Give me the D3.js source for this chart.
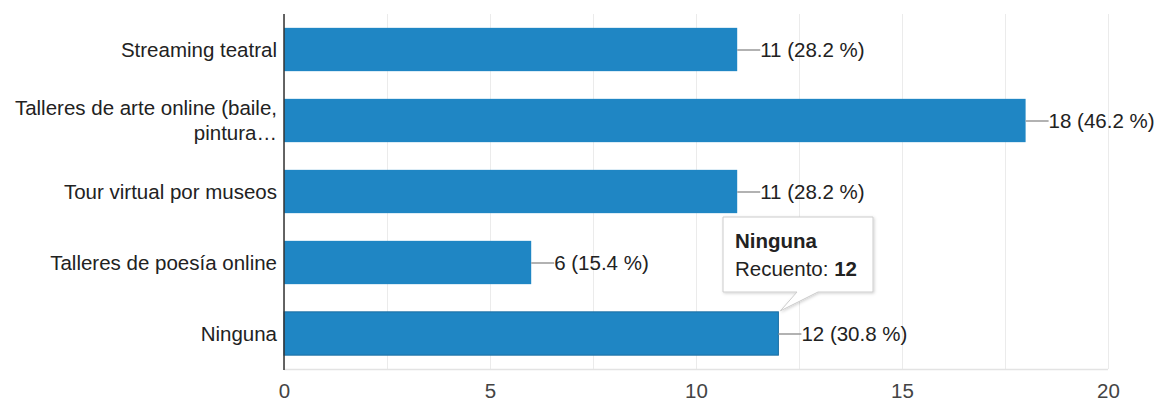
<!DOCTYPE html>
<html>
<head>
<meta charset="utf-8">
<script src="https://cdn.jsdelivr.net/npm/d3@7"></script>
<style>
  html, body { margin: 0; padding: 0; background: #fff; }
  svg { display: block; font-family: "Liberation Sans", Arial, sans-serif; }
</style>
</head>
<body>
<svg id="chart" width="1160" height="403"></svg>
<script>
// Responses per option
const categories = [
  ["Streaming teatral"],
  ["Talleres de arte online (baile,", "pintura…"],
  ["Tour virtual por museos"],
  ["Talleres de poesía online"],
  ["Ninguna"]
];
const counts = [11, 18, 11, 6, 12];
const percents = ["28.2", "46.2", "28.2", "15.4", "30.8"];
const xTicks = [0, 5, 10, 15, 20];
const gridTicks = [0, 2.5, 5, 7.5, 10, 12.5, 15, 17.5, 20];
const tooltipTitle = "Ninguna";
const tooltipLabel = "Recuento: ";
const tooltipIndex = 4;

const svg = d3.select("#chart");
const plotLeft = 284, plotRight = 1108, plotTop = 14, plotBottom = 369;
const blue = "#1f86c4";
const fs = 20.5;

const x = d3.scaleLinear().domain([0, 20]).range([plotLeft, plotRight]);
const y = d3.scaleBand().domain(d3.range(counts.length)).range([plotTop, plotBottom]).paddingInner(0.39).paddingOuter(0.195);

// gridlines
svg.append("g").selectAll("line").data(gridTicks).join("line")
  .attr("x1", d => x(d) + 0.5).attr("x2", d => x(d) + 0.5)
  .attr("y1", plotTop).attr("y2", plotBottom)
  .attr("stroke", "#ebebeb").attr("stroke-width", 1);
svg.append("line")
  .attr("x1", plotLeft).attr("x2", plotRight)
  .attr("y1", plotBottom + 0.5).attr("y2", plotBottom + 0.5)
  .attr("stroke", "#e3e3e3").attr("stroke-width", 1.5);

// x axis labels
const xAxis = d3.axisBottom(x).tickValues(xTicks).tickSize(0).tickPadding(0);
const gx = svg.append("g").attr("transform", `translate(0,${plotBottom + 14})`).call(xAxis);
gx.select(".domain").remove();
gx.selectAll("text").attr("font-size", fs).attr("fill", "#444")
  .attr("font-family", '"Liberation Sans", Arial, sans-serif');

// bars
svg.append("g").selectAll("rect").data(counts).join("rect")
  .attr("x", x(0)).attr("y", (d, i) => y(i))
  .attr("width", d => x(d) - x(0)).attr("height", y.bandwidth())
  .attr("fill", blue)
  .attr("stroke", (d, i) => i === tooltipIndex ? "#1a6ea3" : "none")
  .attr("stroke-width", 1);

// value annotations with leader lines
const ann = svg.append("g");
counts.forEach((d, i) => {
  const cy = y(i) + y.bandwidth() / 2;
  ann.append("line")
    .attr("x1", x(d)).attr("x2", x(d) + 23)
    .attr("y1", cy + 0.5).attr("y2", cy + 0.5)
    .attr("stroke", "#999").attr("stroke-width", 1.5);
  ann.append("text")
    .attr("x", x(d) + 23).attr("y", cy + 7)
    .attr("font-size", fs).attr("fill", "#222")
    .text(`${d} (${percents[i]} %)`);
});

// category labels
const lab = svg.append("g");
categories.forEach((lines, i) => {
  const cy = y(i) + y.bandwidth() / 2;
  const lh = 25;
  const start = cy - (lines.length - 1) * lh / 2 + 7;
  lines.forEach((t, k) => {
    lab.append("text")
      .attr("x", plotLeft - 7).attr("y", start + k * lh)
      .attr("text-anchor", "end")
      .attr("font-size", fs).attr("fill", "#222")
      .text(t);
  });
});

// vertical baseline
svg.append("line")
  .attr("x1", plotLeft).attr("x2", plotLeft)
  .attr("y1", plotTop).attr("y2", plotBottom + 1)
  .attr("stroke", "#333").attr("stroke-width", 1.5);

// tooltip callout for the hovered bar
const tipX = x(counts[tooltipIndex]) + 2, tipY = y(tooltipIndex) - 1;
const bx = 723, by = 217, bw = 150, bh = 75;
const defs = svg.append("defs");
const f = defs.append("filter").attr("id", "shadow").attr("x", "-10%").attr("y", "-10%").attr("width", "130%").attr("height", "140%");
f.append("feDropShadow").attr("dx", 1).attr("dy", 1).attr("stdDeviation", 1.5).attr("flood-color", "#000").attr("flood-opacity", 0.18);
const path = d3.path();
path.moveTo(bx, by);
path.lineTo(bx + bw, by);
path.lineTo(bx + bw, by + bh);
path.lineTo(818, by + bh);
path.lineTo(tipX, tipY);
path.lineTo(797, by + bh);
path.lineTo(bx, by + bh);
path.closePath();
svg.append("path").attr("d", path.toString())
  .attr("fill", "#fff").attr("stroke", "#ccc").attr("stroke-width", 1)
  .attr("filter", "url(#shadow)");
svg.append("text").attr("x", bx + 12).attr("y", by + 31)
  .attr("font-size", fs).attr("font-weight", "bold").attr("fill", "#222")
  .text(tooltipTitle);
const t2 = svg.append("text").attr("x", bx + 12).attr("y", by + 59)
  .attr("font-size", fs).attr("fill", "#222");
t2.append("tspan").text(tooltipLabel);
t2.append("tspan").attr("font-weight", "bold").text(counts[tooltipIndex]);
</script>
</body>
</html>
